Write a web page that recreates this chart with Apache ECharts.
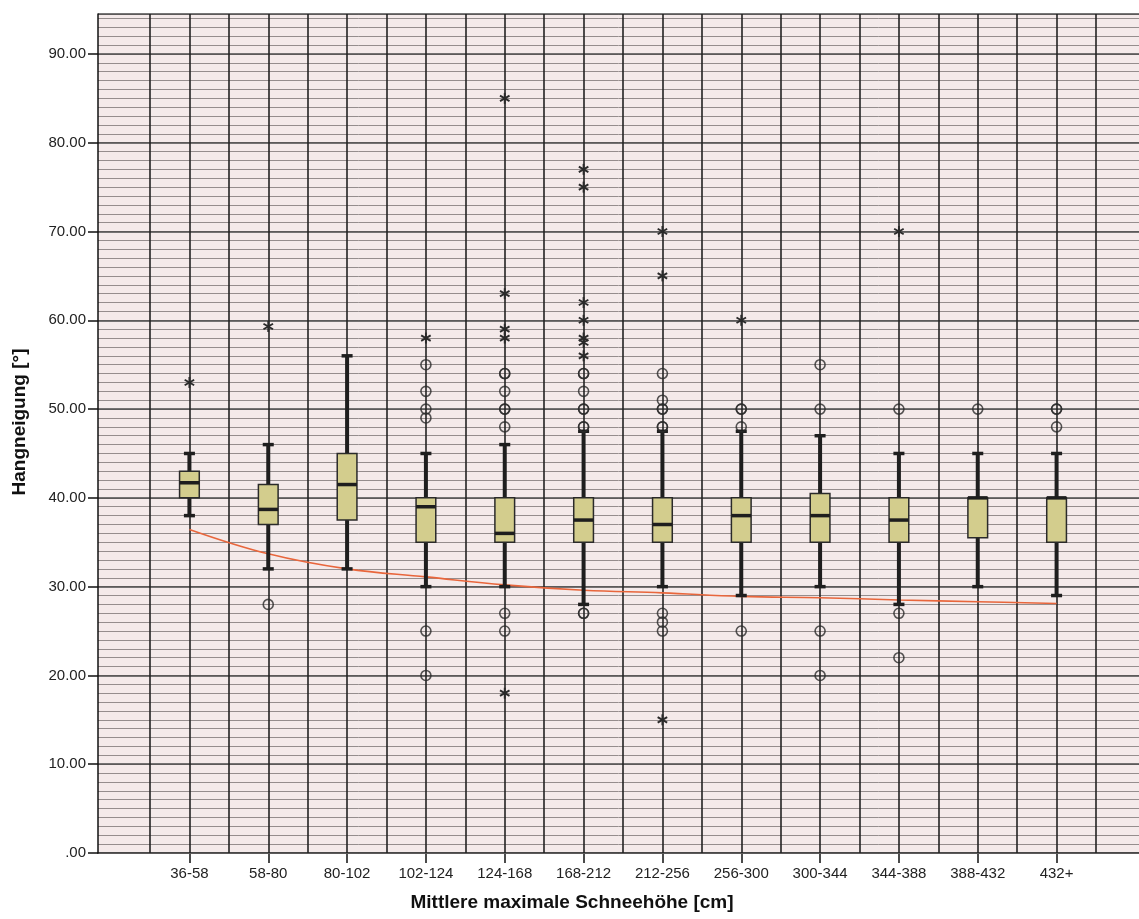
<!DOCTYPE html>
<html><head><meta charset="utf-8">
<script src="https://cdn.jsdelivr.net/npm/echarts@6/dist/echarts.min.js"></script>
<style>html,body{margin:0;padding:0;background:#fff}#c{width:1139px;height:919px}</style>
</head><body><div id="c"></div>
<script>
// ---- data ----
const categories = ['36-58','58-80','80-102','102-124','124-168','168-212','212-256','256-300','300-344','344-388','388-432','432+'];
const lowerWhisker = [38, 32, 32, 30, 30, 28, 30, 29, 30, 28, 30, 29];
const quartile1    = [40, 37, 37.5, 35, 35, 35, 35, 35, 35, 35, 35.5, 35];
const medians      = [41.7, 38.7, 41.5, 39, 36, 37.5, 37, 38, 38, 37.5, 40, 40];
const quartile3    = [43, 41.5, 45, 40, 40, 40, 40, 40, 40.5, 40, 40, 40];
const upperWhisker = [45, 46, 56, 45, 46, 47.5, 47.5, 47.5, 47, 45, 45, 45];
const circleOutliers = [
  [], [28], [], [55, 52, 50, 49, 25, 20],
  [54, 54, 52, 50, 50, 48, 27, 25],
  [54, 54, 52, 50, 50, 48, 48, 27, 27],
  [54, 51, 50, 50, 48, 48, 27, 26, 25],
  [50, 50, 48, 25], [55, 50, 25, 20], [50, 27, 22], [50], [50, 50, 48]
];
const starOutliers = [
  [53], [59.3], [], [58], [85, 63, 59, 58, 18], [77, 75, 62, 60, 58, 57.5, 56],
  [70, 65, 15], [60], [], [70], [], []
];
const fitLine = [36.45, 33.7, 32.0, 31.1, 30.2, 29.6, 29.3, 28.9, 28.75, 28.5, 28.3, 28.1];
const yMin = 0, yMax = 94.5, yMajor = 10, yMinor = 1;
const yTitle = 'Hangneigung [°]';
const xTitle = 'Mittlere maximale Schneehöhe [cm]';

// ---- build ----
const boxData = categories.map((c, i) => [i, lowerWhisker[i], quartile1[i], medians[i], quartile3[i], upperWhisker[i]]);
const circleData = [];
circleOutliers.forEach((arr, i) => arr.forEach(v => circleData.push([i, v])));
const starData = [];
starOutliers.forEach((arr, i) => arr.forEach(v => starData.push([i, v])));

const DARK = '#1e1e1e';
const FONT = '"Liberation Sans", Arial, sans-serif';

function renderBox(params, api) {
  const x = api.value(0);
  const lo = api.coord([x, api.value(1)]);
  const q1 = api.coord([x, api.value(2)]);
  const md = api.coord([x, api.value(3)]);
  const q3 = api.coord([x, api.value(4)]);
  const hi = api.coord([x, api.value(5)]);
  const band = api.size([1, 0])[0];
  const bw = band * 0.25;
  const cw = band * 0.14;
  const cx = lo[0];
  return {
    type: 'group',
    children: [
      { type: 'line', shape: { x1: cx, y1: q1[1], x2: cx, y2: lo[1] }, style: { stroke: DARK, lineWidth: 4 } },
      { type: 'line', shape: { x1: cx, y1: q3[1], x2: cx, y2: hi[1] }, style: { stroke: DARK, lineWidth: 4 } },
      { type: 'line', shape: { x1: cx - cw / 2, y1: lo[1], x2: cx + cw / 2, y2: lo[1] }, style: { stroke: DARK, lineWidth: 3.5 } },
      { type: 'line', shape: { x1: cx - cw / 2, y1: hi[1], x2: cx + cw / 2, y2: hi[1] }, style: { stroke: DARK, lineWidth: 3.5 } },
      { type: 'rect', shape: { x: cx - bw / 2, y: q3[1], width: bw, height: q1[1] - q3[1] }, style: { fill: '#d3cd8d', stroke: '#2a2a2a', lineWidth: 1.5 } },
      { type: 'line', shape: { x1: cx - bw / 2, y1: md[1], x2: cx + bw / 2, y2: md[1] }, style: { stroke: DARK, lineWidth: 3.5 } }
    ]
  };
}

function renderStar(params, api) {
  const p = api.coord([api.value(0), api.value(1)]);
  const r = 5.5;
  const children = [90, 30, 150].map(a => {
    const rad = a * Math.PI / 180;
    return { type: 'line', shape: { x1: p[0] - r * Math.cos(rad), y1: p[1] - r * Math.sin(rad), x2: p[0] + r * Math.cos(rad), y2: p[1] + r * Math.sin(rad) }, style: { stroke: '#2a2a2a', lineWidth: 1.9 } };
  });
  return { type: 'group', children };
}

const chart = echarts.init(document.getElementById('c'), null, { renderer: 'canvas' });
chart.setOption({
  animation: false,
  backgroundColor: '#ffffff',
  textStyle: { fontFamily: FONT },
  grid: [
    { left: 98, right: 0, top: 14, bottom: 66, show: true, backgroundColor: '#f4eaea', borderWidth: 0 },
    { left: 150, right: 43, top: 14, bottom: 66 }
  ],
  xAxis: [
    { type: 'value', gridIndex: 0, min: 0, max: 1, axisLine: { show: true, onZero: false, lineStyle: { color: '#111', width: 1.5 } }, axisTick: { show: false }, axisLabel: { show: false }, splitLine: { show: false } },
    { type: 'category', gridIndex: 1, data: categories, boundaryGap: true, axisLine: { show: false },
      axisTick: { show: true, alignWithLabel: true, length: 10, lineStyle: { color: '#111', width: 1.5 } },
      axisLabel: { show: true, interval: 0, margin: 13, fontSize: 15, color: '#222', fontFamily: FONT }, splitLine: { show: false } },
    { type: 'value', gridIndex: 1, min: -0.5, max: 11.5, interval: 0.5, axisLine: { show: false }, axisTick: { show: false }, axisLabel: { show: false },
      splitLine: { show: true, lineStyle: { color: '#222', width: 1.6 } }, z: 3 }
  ],
  yAxis: [
    { type: 'value', gridIndex: 0, min: yMin, max: yMax, interval: yMajor, z: 2,
      axisLine: { show: true, lineStyle: { color: '#111', width: 1.5 } },
      axisTick: { show: true, length: 10, lineStyle: { color: '#111', width: 1.5 } },
      axisLabel: { show: true, margin: 12, fontSize: 15, color: '#222', fontFamily: FONT, showMaxLabel: false,
        formatter: v => v === 0 ? '.00' : v.toFixed(2) },
      splitLine: { show: true, lineStyle: { color: '#4a4a4a', width: 1.5 } } },
    { type: 'value', gridIndex: 0, min: yMin, max: yMax, interval: yMinor, z: 1,
      axisLine: { show: false }, axisTick: { show: false }, axisLabel: { show: false },
      splitLine: { show: true, lineStyle: { color: '#958d8d', width: 1 } } },
    { type: 'value', gridIndex: 1, min: yMin, max: yMax, show: false }
  ],
  graphic: [
    { type: 'text', x: 20, y: 422, rotation: Math.PI / 2,
      style: { text: yTitle, font: 'bold 19px ' + FONT, fill: '#111', textAlign: 'center', textVerticalAlign: 'middle' } },
    { type: 'text', x: 572, y: 903,
      style: { text: xTitle, font: 'bold 19px ' + FONT, fill: '#111', textAlign: 'center', textVerticalAlign: 'middle' } }
  ],
  series: [
    { type: 'line', xAxisIndex: 1, yAxisIndex: 2, data: fitLine, smooth: 0.4, showSymbol: false, z: 4,
      lineStyle: { color: '#e8663c', width: 1.6 } },
    { type: 'custom', xAxisIndex: 1, yAxisIndex: 2, data: boxData, renderItem: renderBox, z: 5,
      encode: { x: 0, y: [1, 2, 3, 4, 5] } },
    { type: 'scatter', xAxisIndex: 1, yAxisIndex: 2, data: circleData, symbol: 'circle', symbolSize: 10, z: 6,
      itemStyle: { color: 'rgba(0,0,0,0)', borderColor: '#2a2a2a', borderWidth: 1.6 } },
    { type: 'custom', xAxisIndex: 1, yAxisIndex: 2, data: starData, renderItem: renderStar, z: 6,
      encode: { x: 0, y: 1 } }
  ]
});
</script>
</body></html>
